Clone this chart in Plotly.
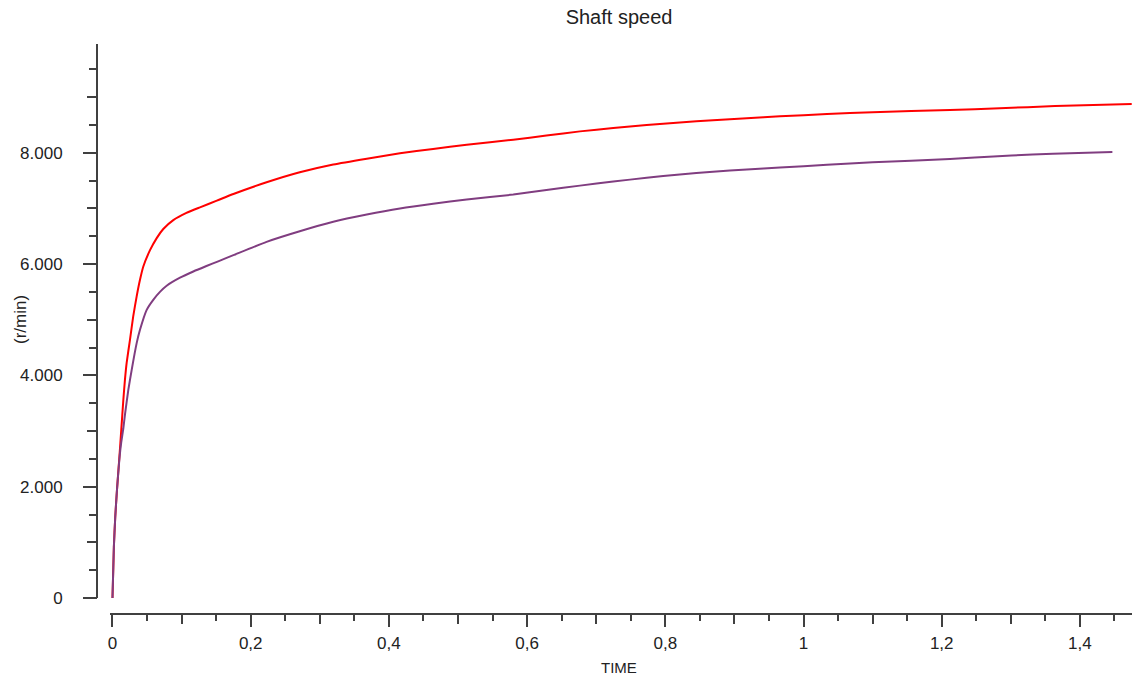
import plotly.graph_objects as go

# ---- data ----
red_t = [0, 0.002, 0.004, 0.0065, 0.010, 0.0127, 0.0157, 0.018, 0.0205, 0.0253,
         0.030, 0.035, 0.0398, 0.0446, 0.0543, 0.064, 0.0735, 0.088, 0.107, 0.1266,
         0.151, 0.175, 0.223, 0.271, 0.3195, 0.368, 0.416, 0.464, 0.5126, 0.58,
         0.628, 0.6765, 0.7247, 0.773, 0.821, 0.869, 0.918, 0.966, 1.034, 1.1,
         1.212, 1.284, 1.364, 1.475]
red_v = [0, 917, 1456, 1942, 2535, 3020, 3560, 3920, 4225, 4640,
         5060, 5420, 5718, 5957, 6250, 6467, 6630, 6790, 6920, 7020,
         7140, 7260, 7470, 7650, 7790, 7895, 7990, 8070, 8145, 8235,
         8310, 8385, 8445, 8500, 8545, 8585, 8620, 8655, 8697, 8728,
         8770, 8800, 8840, 8875]

purple_t = [0, 0.002, 0.004, 0.0065, 0.010, 0.0127, 0.0157, 0.018, 0.0229, 0.0278,
            0.035, 0.0398, 0.0495, 0.059, 0.0687, 0.0784, 0.0977, 0.117, 0.136, 0.153,
            0.175, 0.223, 0.271, 0.3195, 0.368, 0.416, 0.464, 0.5126, 0.58, 0.628,
            0.6765, 0.7247, 0.773, 0.821, 0.869, 0.918, 0.966, 1.034, 1.1, 1.212,
            1.248, 1.301, 1.361, 1.447]
purple_v = [0, 917, 1456, 1942, 2500, 2800, 3050, 3290, 3740, 4100,
            4580, 4819, 5178, 5358, 5500, 5610, 5755, 5867, 5965, 6050,
            6160, 6400, 6590, 6760, 6890, 7000, 7085, 7160, 7250, 7330,
            7410, 7485, 7550, 7612, 7660, 7700, 7735, 7785, 7830, 7888,
            7915, 7950, 7983, 8015]

x_tick_vals = [0, 0.2, 0.4, 0.6, 0.8, 1.0, 1.2, 1.4]
x_tick_text = ["0", "0,2", "0,4", "0,6", "0,8", "1", "1,2", "1,4"]
y_tick_vals = [0, 2000, 4000, 6000, 8000]
y_tick_text = ["0", "2.000", "4.000", "6.000", "8.000"]

W, H = 1132, 676
FONT = "Liberation Sans, Arial, sans-serif"
AXC = "#404040"
TXT = "#222222"


def px(x):
    return x / W


def py(y):
    return 1 - y / H


x_range = [-0.0036, 1.4754]
y_range = [0, 9955]
x_dom = [px(110), 1.0]
y_dom = [py(598), py(44)]

fig = go.Figure()
fig.add_trace(go.Scatter(x=red_t, y=red_v, mode="lines",
                         line=dict(color="#ff0000", width=2, shape="spline", smoothing=0.5),
                         showlegend=False))
fig.add_trace(go.Scatter(x=purple_t, y=purple_v, mode="lines",
                         line=dict(color="#803d80", width=2, shape="spline", smoothing=0.5),
                         showlegend=False))
# invisible trace to carry the medium-tick overlay axes
fig.add_trace(go.Scatter(x=[None], y=[None], xaxis="x2", yaxis="y2",
                         mode="lines", showlegend=False, hoverinfo="skip"))

fig.update_layout(
    width=W, height=H,
    margin=dict(l=0, r=0, t=0, b=0, autoexpand=False),
    paper_bgcolor="white", plot_bgcolor="white",
    font=dict(family=FONT, size=17, color=TXT),
    title=dict(text="Shaft speed", x=px(619), y=py(17), xanchor="center",
               yanchor="middle", xref="paper", yref="paper",
               font=dict(family=FONT, size=20, color=TXT)),
    xaxis=dict(domain=x_dom, range=x_range, anchor="free", position=py(614),
               automargin=False,
               showgrid=False, zeroline=False, showline=True, linecolor=AXC, linewidth=2,
               ticks="outside", ticklen=12, tickwidth=2, tickcolor=AXC,
               tickvals=x_tick_vals, ticktext=x_tick_text, ticklabelstandoff=2,
               minor=dict(dtick=0.05, tick0=0, ticks="outside", ticklen=6,
                          tickwidth=2, tickcolor=AXC, showgrid=False)),
    yaxis=dict(domain=y_dom, range=y_range, anchor="free", position=px(97),
               automargin=False,
               showgrid=False, zeroline=False, showline=True, linecolor=AXC, linewidth=2,
               ticks="outside", ticklen=13, tickwidth=2, tickcolor=AXC,
               tickvals=y_tick_vals, ticktext=y_tick_text, ticklabelstandoff=17,
               minor=dict(dtick=500, tick0=0, ticks="outside", ticklen=7,
                          tickwidth=2, tickcolor=AXC, showgrid=False)),
    xaxis2=dict(domain=x_dom, range=x_range, anchor="free", position=py(614),
                overlaying="x", automargin=False, showgrid=False, zeroline=False,
                showline=False, ticks="outside", ticklen=9, tickwidth=2, tickcolor=AXC,
                dtick=0.1, tick0=0, showticklabels=False),
    yaxis2=dict(domain=y_dom, range=y_range, anchor="free", position=px(97),
                overlaying="y", automargin=False, showgrid=False, zeroline=False,
                showline=False, ticks="outside", ticklen=10, tickwidth=2, tickcolor=AXC,
                dtick=1000, tick0=0, showticklabels=False),
    annotations=[
        dict(text="TIME", x=px(619), y=py(667), xref="paper", yref="paper",
             xanchor="center", yanchor="middle", showarrow=False,
             font=dict(family=FONT, size=15, color=TXT)),
        dict(text="(r/min)", x=px(20), y=py(320), xref="paper", yref="paper",
             xanchor="center", yanchor="middle", showarrow=False, textangle=-90,
             font=dict(family=FONT, size=17, color=TXT)),
    ],
)

fig.write_html(
    "out.html",
    config={"displayModeBar": False},
    post_script="document.body.style.margin='0';document.body.style.overflow='hidden';",
)
